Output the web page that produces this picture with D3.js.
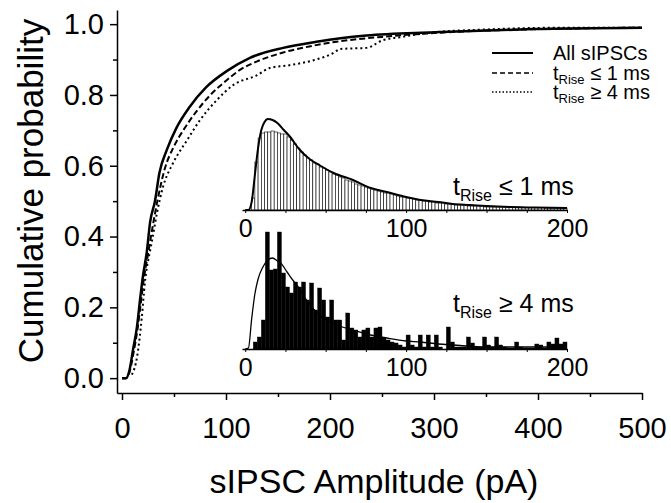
<!DOCTYPE html>
<html>
<head>
<meta charset="utf-8">
<script src="https://cdn.jsdelivr.net/npm/d3@7"></script>
<style>
  html, body { margin: 0; padding: 0; background: #fff; }
  svg { display: block; }
  text { font-family: "Liberation Sans", Arial, Helvetica, sans-serif; fill: #000; }
</style>
</head>
<body>
<svg id="chart" width="671" height="503"></svg>
<script>
// ---------------- DATA ----------------
// Main cumulative curves: [amplitude pA, cumulative probability]
const cdfAll = [[0,0],[4,0],[7,0.02],[10.6,0.08],[14.4,0.145],[17.3,0.22],[20,0.285],[24,0.36],[27,0.44],[31.7,0.50],[36,0.58],[43,0.644],[52,0.705],[65,0.766],[81,0.822],[101,0.868],[123,0.905],[155,0.933],[187,0.95],[210,0.96],[235,0.968],[300,0.977],[395,0.986],[500,0.99]];
const cdfFast = [[0,0],[4,0],[7,0.015],[11,0.07],[15,0.14],[18,0.21],[21,0.28],[25,0.35],[29,0.42],[34,0.50],[41,0.59],[50,0.655],[60,0.705],[72,0.755],[85,0.80],[100,0.84],[113,0.87],[130,0.895],[155,0.92],[180,0.937],[210,0.952],[250,0.964],[300,0.975],[400,0.986],[500,0.99]];
const cdfSlow = [[9.5,0.01],[14.5,0.06],[19,0.17],[22,0.27],[27,0.36],[29,0.39],[33.6,0.466],[39.4,0.54],[49,0.607],[62.5,0.672],[75,0.729],[91,0.785],[107,0.828],[130,0.856],[142,0.876],[161,0.884],[184,0.898],[203,0.918],[210,0.93],[235,0.933],[251,0.955],[267,0.963],[293,0.975],[350,0.985],[428,0.99],[500,0.99]];

const seriesNames = ["All sIPSCs", "≤ 1 ms", "≥ 4 ms"];

const yTicks = [0, 0.2, 0.4, 0.6, 0.8, 1.0];
const yMinorTicks = [0.1, 0.3, 0.5, 0.7, 0.9];
const xTicks = [0, 100, 200, 300, 400, 500];
const xMinorTicks = [50, 150, 250, 350, 450];

// Inset histogram (tRise <= 1 ms): 2 pA bins from 0 to 200 pA
const histFastBin = 2;
const histFast = [0,0,12,48,72,77,78,78,79,78,77,76,76,73,70,66,62,58,55,52,
  50,47,46,43,42,40,38,36,35,33,32,30,29,28,26,25,24,23,22,21,
  20,19,18,17,17,16,15,14,13,13,12,12,11,10,10,9,9,8,8,7,
  7,7,6,6,6,5,5,5,5,4,4,4,4,4,3,3,3,3,3,3,
  3,3,3,3,3,3,2.5,2.5,2.5,2.5,2.5,2.5,2.5,2,2,2,2,2,2,2];
const fitFast = [[0,0],[2,0],[4,8],[6,35],[8,62],[10,80],[12,88],[14,91],[17,90],[20,87],[24,80],[28,73],[32,64],[34,60],[40,51],[47,44],[55,37],[67,30],[78,22],[88,18],[100,13],[109,10],[120,8],[129,6],[140,5],[150,4],[165,3],[180,2.5],[200,2]];

// Inset histogram (tRise >= 4 ms): 2.5 pA bins from 0 to 200 pA
const histSlowBin = 2.5;
const histSlow = [0,0,7,12,29,117,79,80,117,76,
  62,56,67,62,67,49,66,39,61,49,
  32,49,29,29,9,36,21,19,12,19,
  21,12,21,22,11,9,7,6,4,2,
  14,4,2,14,2,14,2,14,2,0,
  22,7,2,2,2,12,6,2,2,12,
  4,2,12,4,2,1,1,7,2,1,
  1,1,5,4,1,7,5,11,5,7];
const fitSlow = [[0,0],[2,1],[4,30],[6,55],[8,70],[11,82],[14,89],[17,91],[20,88],[22,86],[26,77],[30,68],[32,64],[38,49],[46,34],[57,24],[67,19],[78,14],[88,11],[100,8],[109,7],[120,5],[129,4],[150,2],[175,2],[200,2]];

const insetTicks = [0, 25, 50, 75, 100, 125, 150, 175, 200];
const insetLabels = [0, 100, 200];

// ---------------- DRAW ----------------
const svg = d3.select("#chart");
const FONT = '"Liberation Sans", Arial, Helvetica, sans-serif';

const x = d3.scaleLinear().domain([-4.8, 500]).range([117, 642]);
const y = d3.scaleLinear().domain([-0.042, 1.04]).range([393, 10]);

// Axes
svg.append("g").attr("transform", "translate(0,393)")
  .call(d3.axisBottom(x).tickValues(xTicks).tickSize(7).tickSizeOuter(0).tickPadding(17).tickFormat(d3.format("d")));
const xMinor = svg.append("g").attr("transform", "translate(0,393)")
  .call(d3.axisBottom(x).tickValues(xMinorTicks).tickSize(4).tickSizeOuter(0).tickFormat(""));
xMinor.select(".domain").remove();

svg.append("g").attr("transform", "translate(117,0)")
  .call(d3.axisLeft(y).tickValues(yTicks).tickSize(7).tickSizeOuter(0).tickPadding(6).tickFormat(d3.format(".1f")));
const yMinor = svg.append("g").attr("transform", "translate(117,0)")
  .call(d3.axisLeft(y).tickValues(yMinorTicks).tickSize(4).tickSizeOuter(0).tickFormat(""));
yMinor.select(".domain").remove();

svg.selectAll(".domain").attr("stroke", "#000").attr("stroke-width", 1.5);
svg.selectAll(".tick line").attr("stroke", "#000").attr("stroke-width", 1.5);
svg.selectAll(".tick text").attr("font-family", FONT).attr("font-size", 29).attr("fill", "#000");

// Axis titles
svg.append("text")
  .attr("transform", "translate(43,191) rotate(-90)")
  .attr("text-anchor", "middle")
  .attr("font-size", 35)
  .text("Cumulative probability");
svg.append("text")
  .attr("x", 374).attr("y", 493)
  .attr("text-anchor", "middle")
  .attr("font-size", 34)
  .text("sIPSC Amplitude (pA)");

// ---------------- Insets ----------------
const ix = d3.scaleLinear().domain([-2, 200]).range([242, 567]);

function drawInset(baseY, hist, binW, fit, filled, fitWidth, labelText, labelY) {
  const iy = d3.scaleLinear().domain([0, 120]).range([baseY, baseY - 120]);
  const g = svg.append("g");
  g.selectAll("rect").data(hist).join("rect")
    .attr("x", (d, i) => ix(i * binW))
    .attr("width", ix(binW) - ix(0))
    .attr("y", d => iy(d))
    .attr("height", d => iy(0) - iy(d))
    .attr("fill", filled ? "#000" : "#fff")
    .attr("stroke", "#000")
    .attr("stroke-width", filled ? 0.4 : 0.6);
  g.append("path")
    .datum(fit)
    .attr("fill", "none")
    .attr("stroke", "#000")
    .attr("stroke-width", fitWidth)
    .attr("d", d3.line().x(d => ix(d[0])).y(d => iy(d[1])).curve(d3.curveMonotoneX));
  const ax = svg.append("g").attr("transform", `translate(0,${baseY})`)
    .call(d3.axisBottom(ix).tickValues(insetTicks).tickSize(3).tickSizeOuter(0).tickPadding(6)
      .tickFormat(d => insetLabels.includes(d) ? d : ""));
  ax.select(".domain").attr("stroke", "#000").attr("stroke-width", 1.5);
  ax.selectAll(".tick line").attr("stroke", "#000").attr("stroke-width", 1);
  ax.selectAll(".tick text").attr("font-family", FONT).attr("font-size", 25).attr("fill", "#000");
  const t = svg.append("text").attr("x", 453).attr("y", labelY).attr("font-size", 25);
  t.append("tspan").text("t");
  t.append("tspan").attr("dy", 6).attr("font-size", 16).text("Rise");
  t.append("tspan").attr("dy", -6).text(" " + labelText);
}

drawInset(210, histFast, histFastBin, fitFast, false, 2, seriesNames[1], 195);
drawInset(349, histSlow, histSlowBin, fitSlow, true, 1.3, seriesNames[2], 312);

// ---------------- Main curves ----------------
const line = d3.line().x(d => x(d[0])).y(d => y(d[1])).curve(d3.curveMonotoneX);
svg.append("path").datum(cdfSlow).attr("fill", "none").attr("stroke", "#000")
  .attr("stroke-width", 2).attr("stroke-dasharray", "2,3").attr("d", line);
svg.append("path").datum(cdfFast).attr("fill", "none").attr("stroke", "#000")
  .attr("stroke-width", 2).attr("stroke-dasharray", "6,3").attr("d", line);
svg.append("path").datum(cdfAll).attr("fill", "none").attr("stroke", "#000")
  .attr("stroke-width", 2.5).attr("d", line);

// ---------------- Legend ----------------
const legendRows = [
  { name: seriesNames[0], dash: null, sub: false, ly: 53 },
  { name: seriesNames[1], dash: "5,3", sub: true, ly: 73 },
  { name: seriesNames[2], dash: "1.5,2", sub: true, ly: 92 }
];
const lg = svg.append("g");
legendRows.forEach(r => {
  lg.append("line").attr("x1", 492).attr("x2", 533).attr("y1", r.ly).attr("y2", r.ly)
    .attr("stroke", "#000").attr("stroke-width", r.dash ? 1.5 : 2)
    .attr("stroke-dasharray", r.dash);
  const t = lg.append("text").attr("x", 553).attr("y", r.ly + 7).attr("font-size", 20);
  if (r.sub) {
    t.append("tspan").text("t");
    t.append("tspan").attr("dy", 4).attr("font-size", 13).text("Rise");
    t.append("tspan").attr("dy", -4).text(" " + r.name);
  } else {
    t.text(r.name);
  }
});
</script>
</body>
</html>
